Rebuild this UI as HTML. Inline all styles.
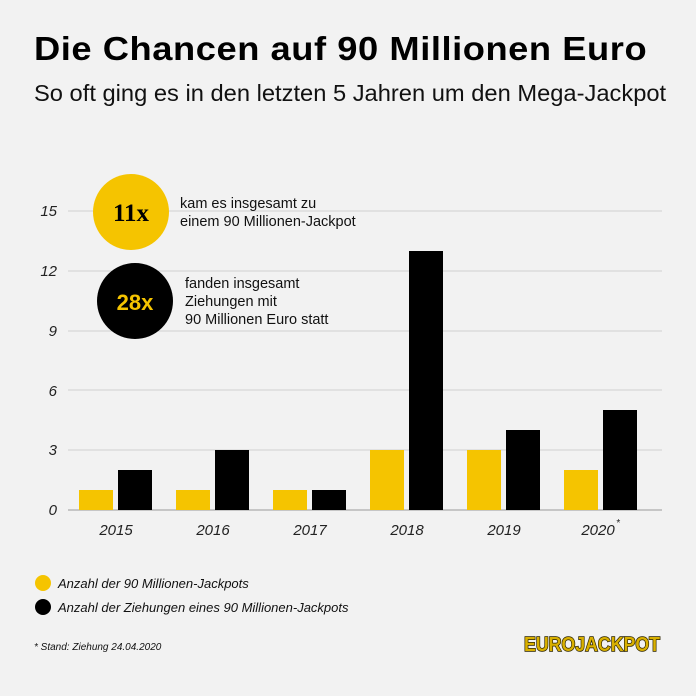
<!DOCTYPE html><html><head><style>
body{margin:0;width:696px;height:696px;background:#f2f2f2;font-family:"Liberation Sans",sans-serif;position:relative;overflow:hidden}
.a{position:absolute;white-space:nowrap}
</style></head><body>
<div class="a" style="left:34px;top:30px;font-size:33px;font-weight:900;letter-spacing:0.5px;color:#000;transform:scaleX(1.1);transform-origin:left">Die Chancen auf 90 Millionen Euro</div>
<div class="a" style="left:34px;top:80px;font-size:23px;color:#111;transform:scaleX(1.03);transform-origin:left">So oft ging es in den letzten 5 Jahren um den Mega-Jackpot</div>
<svg class="a" style="left:0;top:0" width="696" height="696">
<g stroke="#d0d0d0" stroke-width="1">
<line x1="68" x2="662" y1="211" y2="211"/><line x1="68" x2="662" y1="271" y2="271"/><line x1="68" x2="662" y1="331" y2="331"/><line x1="68" x2="662" y1="390" y2="390"/><line x1="68" x2="662" y1="450" y2="450"/></g>
<line x1="68" x2="662" y1="510" y2="510" stroke="#999"/>
<g font-family="Liberation Sans" font-style="italic" font-size="15" fill="#222" text-anchor="end">
<text x="57" y="216">15</text><text x="57" y="276">12</text><text x="57" y="336">9</text><text x="57" y="396">6</text><text x="57" y="455">3</text><text x="57" y="515">0</text></g>
<g fill="#f5c400">
<rect x="79" y="490" width="34" height="20"/><rect x="176" y="490" width="34" height="20"/><rect x="273" y="490" width="34" height="20"/><rect x="370" y="450" width="34" height="60"/><rect x="467" y="450" width="34" height="60"/><rect x="564" y="470" width="34" height="40"/></g>
<g fill="#000">
<rect x="118" y="470" width="34" height="40"/><rect x="215" y="450" width="34" height="60"/><rect x="312" y="490" width="34" height="20"/><rect x="409" y="251" width="34" height="259"/><rect x="506" y="430" width="34" height="80"/><rect x="603" y="410" width="34" height="100"/></g>
<g font-family="Liberation Sans" font-style="italic" font-size="15" fill="#222" text-anchor="middle">
<text x="116" y="535">2015</text><text x="213" y="535">2016</text><text x="310" y="535">2017</text><text x="407" y="535">2018</text><text x="504" y="535">2019</text><text x="598" y="535">2020</text><text x="618" y="526" font-size="10">*</text></g>
<circle cx="131" cy="212" r="38" fill="#f5c400"/>
<circle cx="135" cy="301" r="38" fill="#000"/>
<text x="131" y="221" text-anchor="middle" font-family="Liberation Serif" font-weight="bold" font-size="25" fill="#000">11x</text>
<text x="135" y="310" text-anchor="middle" font-family="Liberation Sans" font-weight="bold" font-size="22" fill="#f5c400">28x</text>
<g font-family="Liberation Sans" font-size="14.5" fill="#111">
<text x="180" y="208">kam es insgesamt zu</text><text x="180" y="226">einem 90 Millionen-Jackpot</text>
<text x="185" y="288">fanden insgesamt</text><text x="185" y="306">Ziehungen mit</text><text x="185" y="324">90 Millionen Euro statt</text></g>
<circle cx="43" cy="583" r="8" fill="#f5c400"/><circle cx="43" cy="607" r="8" fill="#000"/>
<g font-family="Liberation Sans" font-style="italic" font-size="13" fill="#111">
<text x="58" y="588">Anzahl der 90 Millionen-Jackpots</text><text x="58" y="612">Anzahl der Ziehungen eines 90 Millionen-Jackpots</text>
<text x="34" y="650" font-size="10">* Stand: Ziehung 24.04.2020</text></g>
<text x="592" y="651" text-anchor="middle" font-family="Liberation Sans" font-weight="900" font-size="20" fill="#d9b000" stroke="#2a2200" stroke-width="1.5" paint-order="stroke" textLength="136" lengthAdjust="spacingAndGlyphs">EUROJACKPOT</text>
</svg>
</body></html>
